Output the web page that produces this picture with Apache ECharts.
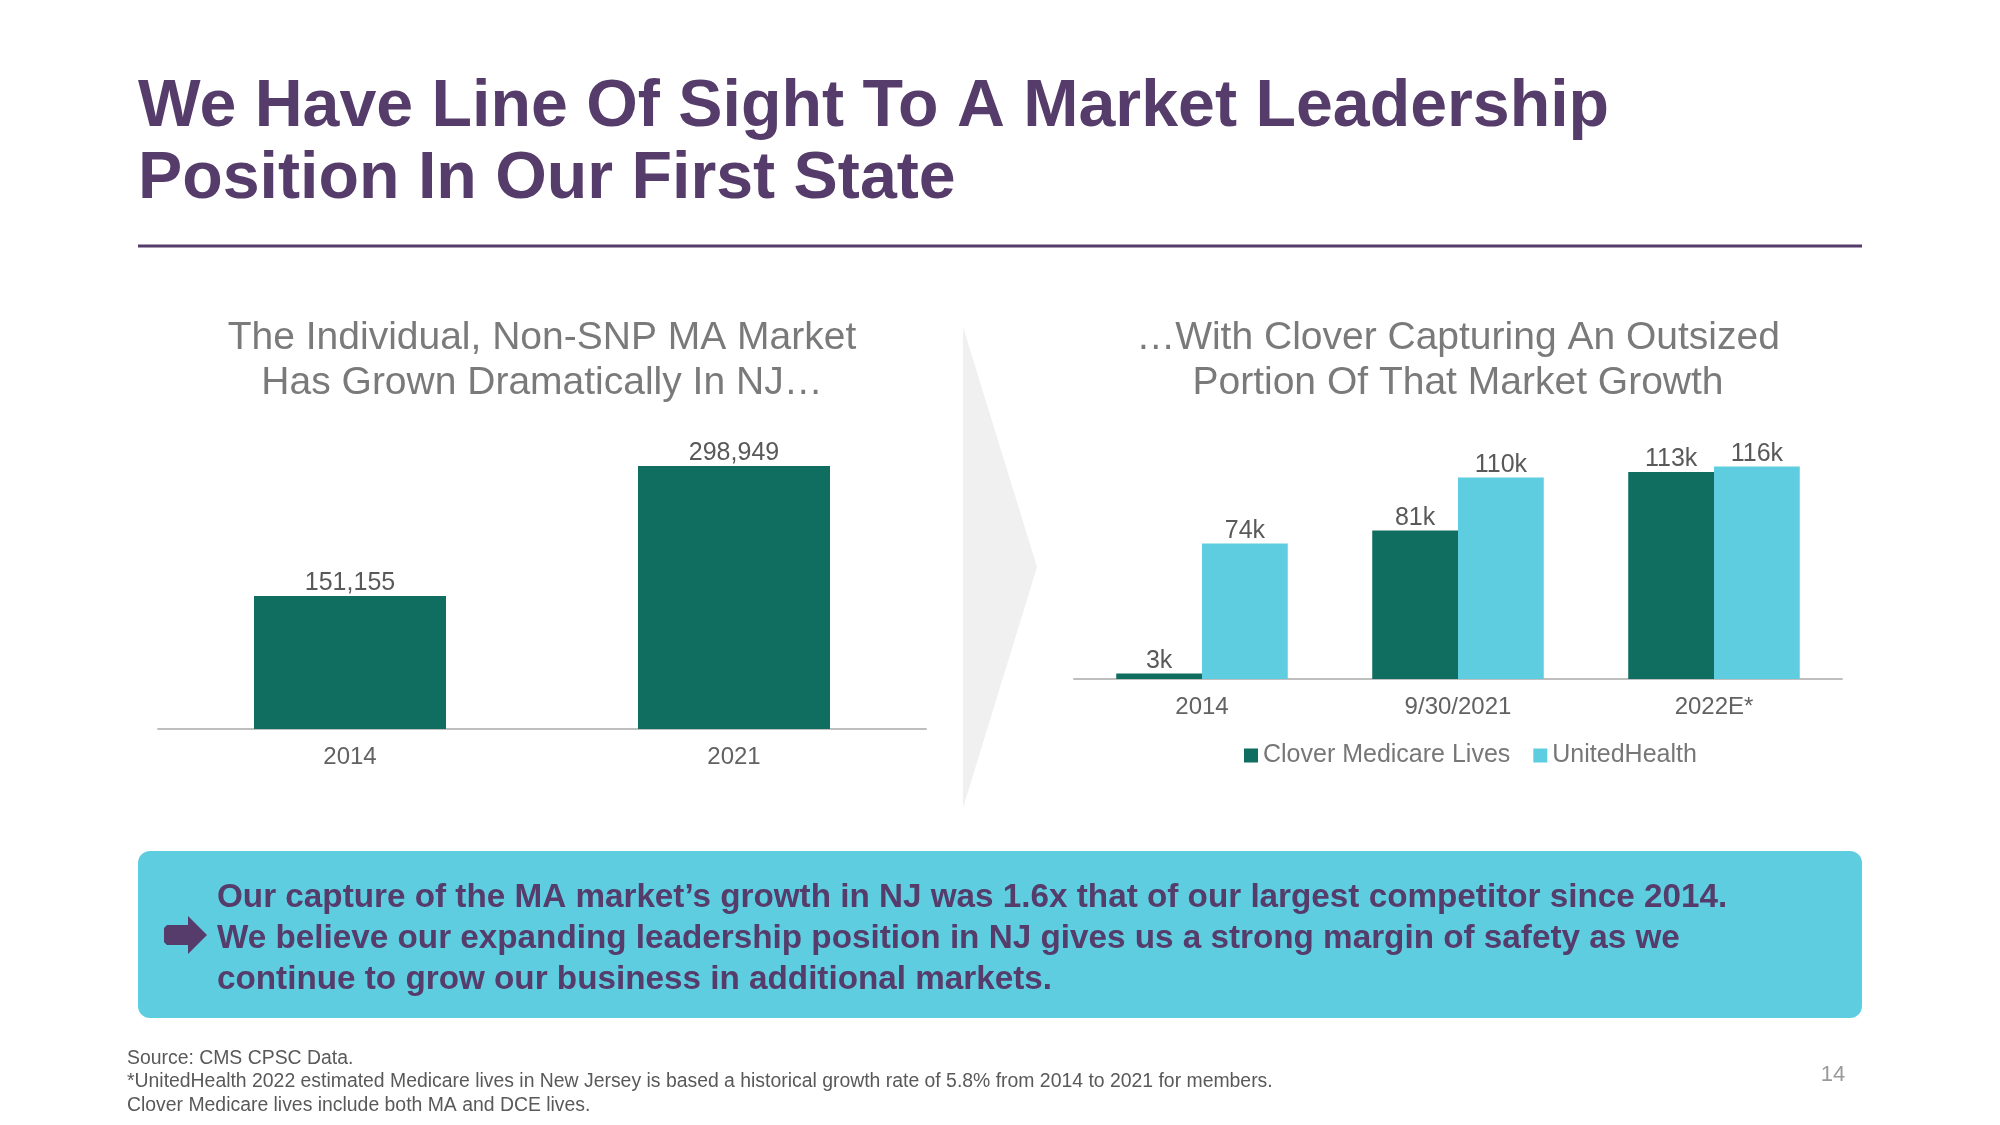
<!DOCTYPE html>
<html>
<head>
<meta charset="utf-8">
<script src="https://cdn.jsdelivr.net/npm/echarts@6/dist/echarts.min.js"></script>
<style>
html,body{margin:0;padding:0;background:#fff;}
#c{width:2000px;height:1125px;}
</style>
</head>
<body>
<div id="c"></div>
<script>
// ---- data ----
const leftCategories = ['2014', '2021'];
const marketValues = [151155, 298949];
const rightCategories = ['2014', '9/30/2021', '2022E*'];
const seriesNames = ['Clover Medicare Lives', 'UnitedHealth'];
const cloverValues = [3000, 81000, 113000];
const unitedValues = [74000, 110000, 116000];

const titleLines = ['We Have Line Of Sight To A Market Leadership', 'Position In Our First State'];
const leftSubtitle = ['The Individual, Non-SNP MA Market', 'Has Grown Dramatically In NJ\u2026'];
const rightSubtitle = ['\u2026With Clover Capturing An Outsized', 'Portion Of That Market Growth'];
const bannerLines = [
  'Our capture of the MA market\u2019s growth in NJ was 1.6x that of our largest competitor since 2014.',
  'We believe our expanding leadership position in NJ gives us a strong margin of safety as we',
  'continue to grow our business in additional markets.'
];
const footnotes = [
  'Source: CMS CPSC Data.',
  '*UnitedHealth 2022 estimated Medicare lives in New Jersey is based a historical growth rate of 5.8% from 2014 to 2021 for members.',
  'Clover Medicare lives include both MA and DCE lives.'
];
const pageNumber = '14';

// ---- styles ----
const FONT = "'Liberation Sans', Arial, Helvetica, sans-serif";
const PURPLE = '#553c6a';
const GREEN = '#0f6e5f';
const BLUE = '#5ecde0';
const AXIS = '#bfbfbf';

const chart = echarts.init(document.getElementById('c'));

// place text by baseline (top-aligned box, ascent ~0.773em)
function txt(x, baseline, text, size, color, weight, align) {
  return {type: 'text', x: x, y: baseline - 0.773 * size,
    style: {text: text, font: (weight || 'normal') + ' ' + size + 'px ' + FONT, fill: color,
      align: align || 'left', verticalAlign: 'top'}};
}

const graphics = [];
titleLines.forEach((t, i) => graphics.push(txt(138, 126 + i * 72, t, 66.3, PURPLE, 'bold')));
graphics.push({type: 'line', shape: {x1: 138, y1: 246, x2: 1862, y2: 246}, style: {stroke: PURPLE, lineWidth: 3}});
graphics.push({type: 'polygon', shape: {points: [[963, 327], [1037, 567], [963, 808]]}, style: {fill: '#f0f0f0'}, z: -1});
leftSubtitle.forEach((t, i) => graphics.push(txt(542, 349 + i * 45, t, 39, '#7a7a7a', 'normal', 'center')));
rightSubtitle.forEach((t, i) => graphics.push(txt(1458, 349 + i * 45, t, 39, '#7a7a7a', 'normal', 'center')));
graphics.push({type: 'rect', shape: {x: 138, y: 851, width: 1724, height: 167, r: 12}, style: {fill: BLUE}});
graphics.push({type: 'polygon', shape: {points: [[167, 925], [188, 925], [188, 916], [207, 935], [188, 954], [188, 945], [167, 945], [164, 942], [164, 928]]}, style: {fill: PURPLE}});
bannerLines.forEach((t, i) => graphics.push(txt(217, 907 + i * 40.8, t, 33.25, PURPLE, 'bold')));
footnotes.forEach((t, i) => graphics.push(txt(127, 1064 + i * 23.6, t, 19.4, '#595959')));
graphics.push(txt(1833, 1081, pageNumber, 22, '#9a9a9a', 'normal', 'center'));

const catAxisCommon = {
  type: 'category',
  axisLine: {lineStyle: {color: AXIS, width: 2}},
  axisTick: {show: false},
  axisLabel: {fontSize: 24, color: '#626262', fontFamily: FONT, margin: 16}
};
const valAxisCommon = {type: 'value', min: 0, show: false, splitLine: {show: false}};
const labelCommon = {show: true, position: 'top', distance: 0, fontSize: 25, color: '#595959', fontFamily: FONT};

chart.setOption({
  animation: false,
  backgroundColor: '#fff',
  textStyle: {fontFamily: FONT},
  grid: [
    {left: 158, width: 768, bottom: 396, top: 421},
    {left: 1074, width: 768, bottom: 446, top: 450}
  ],
  xAxis: [
    Object.assign({gridIndex: 0, data: leftCategories}, catAxisCommon),
    Object.assign({gridIndex: 1, data: rightCategories}, catAxisCommon)
  ],
  yAxis: [
    Object.assign({gridIndex: 0, max: 350000}, valAxisCommon),
    Object.assign({gridIndex: 1, max: 125000}, valAxisCommon)
  ],
  legend: {
    data: seriesNames,
    left: 1244, top: 743,
    icon: 'rect', itemWidth: 14, itemHeight: 14, itemGap: 23,
    padding: 0,
    textStyle: {fontSize: 25, color: '#777', fontFamily: FONT}
  },
  series: [
    {
      name: 'NJ Market', type: 'bar', xAxisIndex: 0, yAxisIndex: 0,
      data: marketValues, barCategoryGap: '50%',
      itemStyle: {color: GREEN},
      label: Object.assign({formatter: p => p.value.toLocaleString('en-US')}, labelCommon)
    },
    {
      name: seriesNames[0], type: 'bar', xAxisIndex: 1, yAxisIndex: 1,
      data: cloverValues, barGap: '0%', barCategoryGap: '33%',
      itemStyle: {color: GREEN},
      label: Object.assign({formatter: p => Math.round(p.value / 1000) + 'k'}, labelCommon)
    },
    {
      name: seriesNames[1], type: 'bar', xAxisIndex: 1, yAxisIndex: 1,
      data: unitedValues, barGap: '0%', barCategoryGap: '33%',
      itemStyle: {color: BLUE},
      label: Object.assign({formatter: p => Math.round(p.value / 1000) + 'k'}, labelCommon)
    }
  ],
  graphic: {elements: graphics}
});
</script>
</body>
</html>
